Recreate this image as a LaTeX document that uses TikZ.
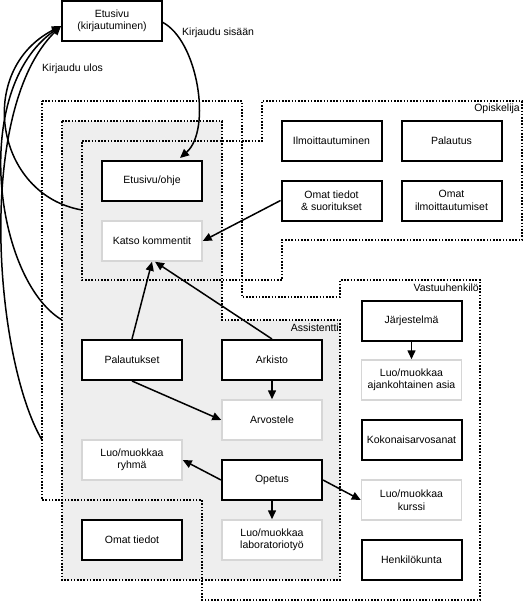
\documentclass[tikz,border=0pt]{standalone}
\usepackage{fontspec}
\setmainfont{Liberation Sans}
\usetikzlibrary{arrows.meta}
\definecolor{regiongray}{RGB}{238,238,238}
\definecolor{lightborder}{RGB}{214,214,214}
\tikzset{
  txt/.style={font=\fontsize{10.5}{12.5}\selectfont, align=center, inner sep=1pt},
  tbox/.style={txt, draw=black, line width=2pt, fill=white, minimum width=100pt, minimum height=40pt},
  lbox/.style={txt, draw=lightborder, line width=1.5pt, fill=white, minimum width=100pt, minimum height=40pt},
  region/.style={draw=black, line width=1.6pt, dash pattern=on 1.6pt off 1.6pt},
  arr/.style={line width=1.5pt, -{Triangle[length=9pt,width=8pt]}},
  lbl/.style={font=\fontsize{10.5}{12.5}\selectfont, inner sep=1pt}
}
\begin{document}
\begin{tikzpicture}[x=1pt,y=-1pt]
\useasboundingbox (0,0) rectangle (525,610);
% assistant region fill
\fill[regiongray] (62,121) -- (222,121) -- (222,320) -- (340,320) -- (340,580) -- (62,580) -- cycle;
% region outlines
\draw[region] (42,101) -- (242,101) -- (242,297) -- (340,297) -- (340,280) -- (480,280) -- (480,600) -- (202,600) -- (202,500) -- (42,500) -- cycle;
\draw[region] (62,121) -- (222,121) -- (222,320) -- (340,320) -- (340,580) -- (62,580) -- cycle;
\draw[region] (82,141) -- (262,141) -- (262,101) -- (522,101) -- (522,240) -- (282,240) -- (282,280) -- (82,280) -- cycle;
% region labels
\node[lbl, anchor=east] (lopi) at (521,109) {Opiskelija};
\node[lbl, anchor=east] (lvas) at (480,288) {Vastuuhenkilö};
\node[lbl, anchor=east] (lass) at (340,328) {Assistentti};
% nodes
\node[tbox] (etus) at (112,21) {Etusivu\\(kirjautuminen)};
\node[tbox] (ohje) at (152,181) {Etusivu/ohje};
\node[lbox] (kom) at (152,241) {Katso kommentit};
\node[tbox] (ilm) at (331.5,141) {Ilmoittautuminen};
\node[tbox] (pal) at (451.5,141) {Palautus};
\node[tbox] (omts) at (331.5,200.5) {Omat tiedot\\\& suoritukset};
\node[tbox] (omil) at (451.5,200.5) {Omat\\ilmoittautumiset};
\node[tbox] (paks) at (132,360) {Palautukset};
\node[tbox] (ark) at (272,360) {Arkisto};
\node[lbox] (arv) at (272,420) {Arvostele};
\node[lbox] (ryh) at (132,460) {Luo/muokkaa\\ryhmä};
\node[tbox] (ope) at (272,480) {Opetus};
\node[tbox] (omt) at (132,540) {Omat tiedot};
\node[lbox] (lab) at (272,540) {Luo/muokkaa\\laboratoriotyö};
\node[tbox] (jar) at (411.5,320.5) {Järjestelmä};
\node[lbox] (ajk) at (411.5,380) {Luo/muokkaa\\ajankohtainen asia};
\node[tbox] (kok) at (411.5,440) {Kokonaisarvosanat};
\node[lbox] (kur) at (411.5,500) {Luo/muokkaa\\kurssi};
\node[tbox] (hen) at (411.5,560) {Henkilökunta};
% login / logout
\coordinate (in0) at (162,22);
\coordinate (in1) at (180,158);
\draw[arr] (in0) .. controls (198,40) and (212,130) .. (in1);
\node[lbl, anchor=west] (lin) at (181,33) {Kirjaudu sisään};
\coordinate (outT) at (61,26);
\coordinate (out1) at (82,210);
\coordinate (out2) at (62,320);
\coordinate (out3) at (42,440);
\draw[arr] (out1) .. controls (-5,195) and (-25,70) .. (outT);
\draw[arr] (out2) .. controls (-5,280) and (-30,90) .. (outT);
\draw[arr] (out3) .. controls (-5,360) and (-25,110) .. (outT);
\node[lbl, anchor=west] (lout) at (41,69) {Kirjaudu ulos};
% edges
\draw[arr] (omts.west) -- (kom.east);
\draw[arr] (paks.north) -- (kom.south);
\draw[arr] (ark.north) -- ([xshift=3pt]kom.south);
\draw[arr] (paks.south) -- (arv.west);
\draw[arr] (ark.south) -- (arv.north);
\draw[arr] (ope.west) -- (ryh.east);
\draw[arr] (ope.east) -- (kur.west);
\draw[arr] (ope.south) -- (lab.north);
\draw[arr] (jar.south) -- (ajk.north);
\end{tikzpicture}
\end{document}
